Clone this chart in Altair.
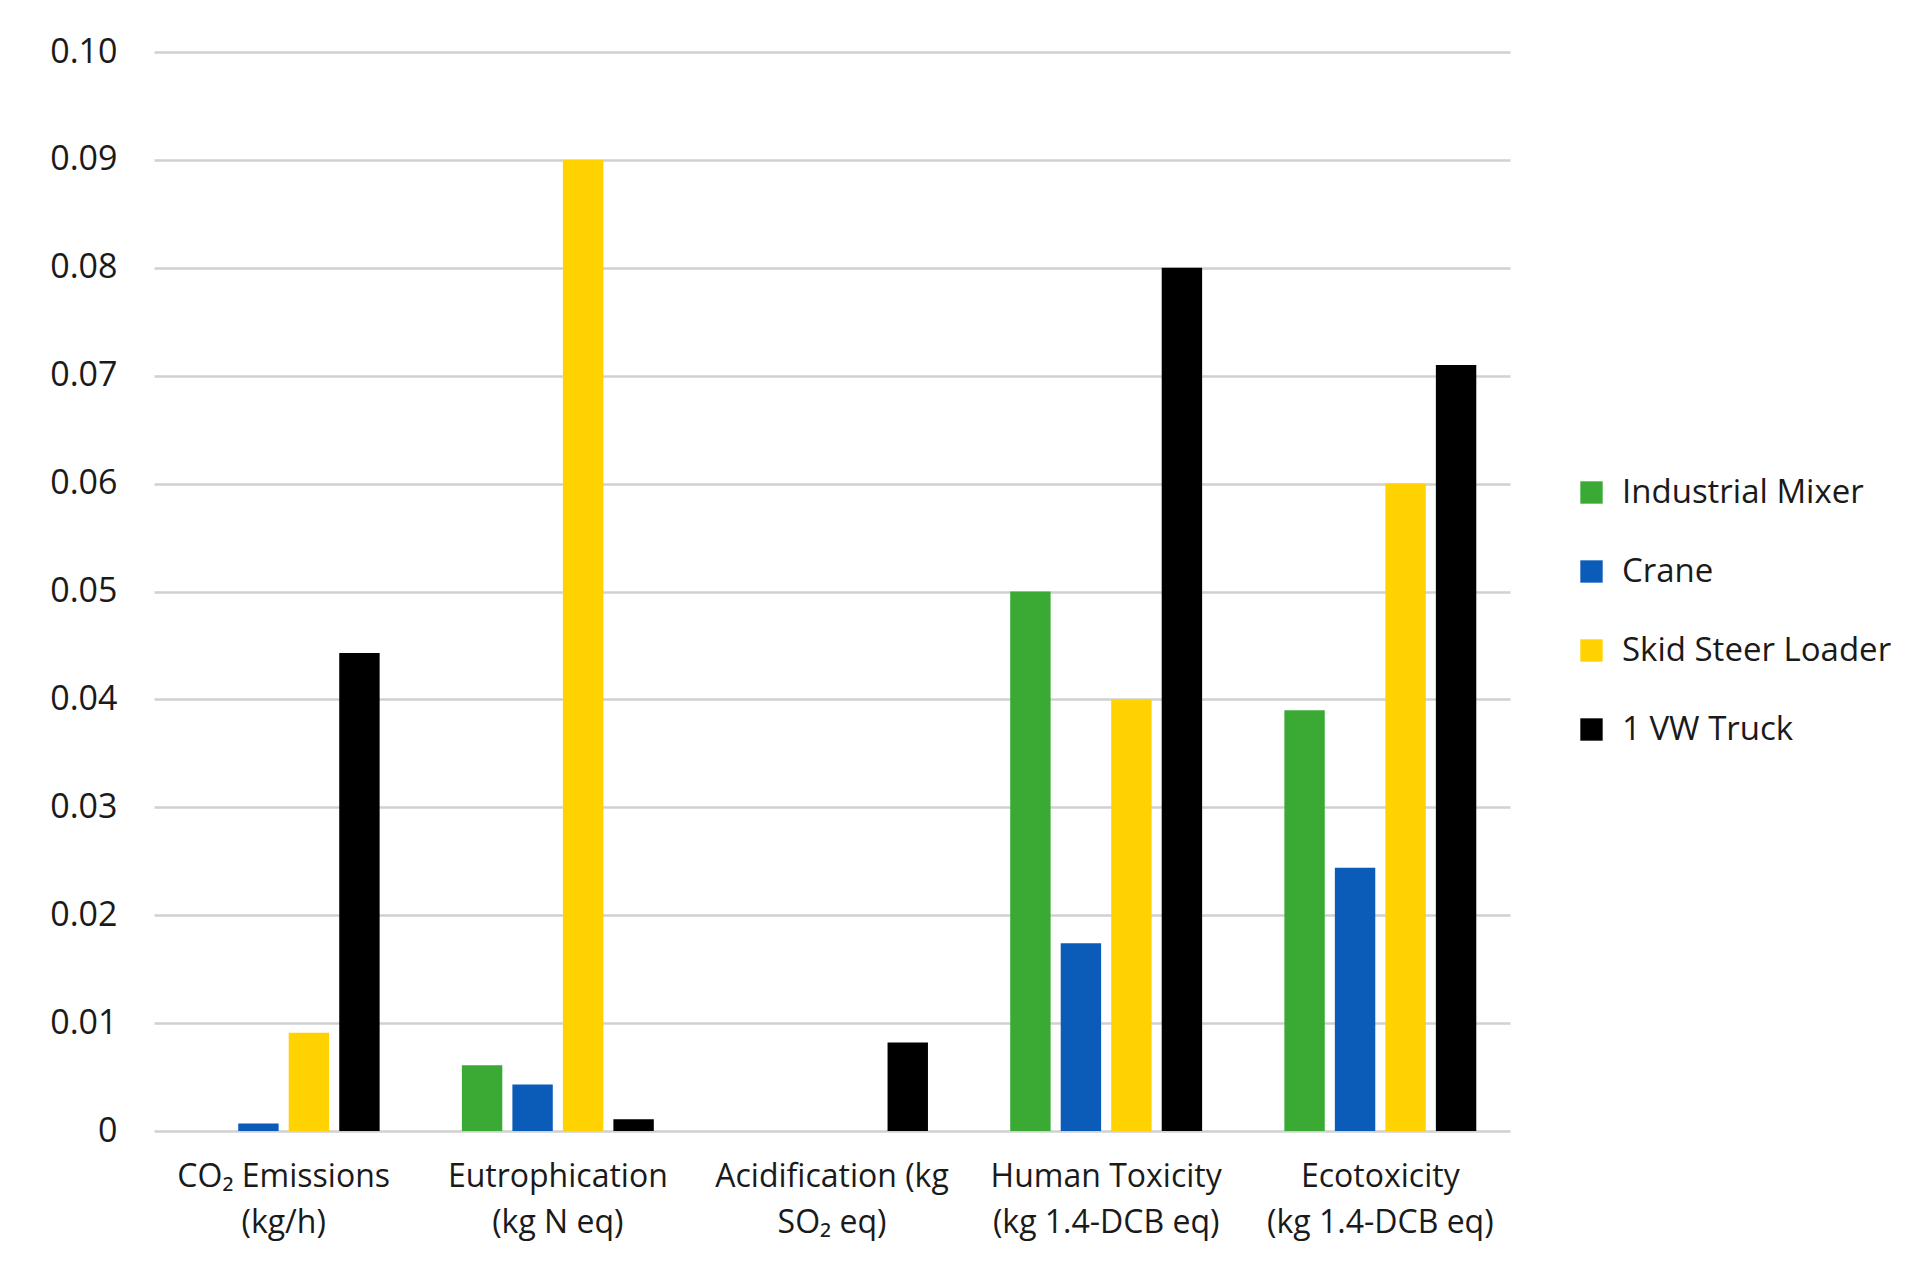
import pandas as pd
import altair as alt

# --- data ---
categories = [
    "CO₂ Emissions|(kg/h)",
    "Eutrophication|(kg N eq)",
    "Acidification (kg|SO₂ eq)",
    "Human Toxicity|(kg 1.4-DCB eq)",
    "Ecotoxicity|(kg 1.4-DCB eq)",
]
series = ["Industrial Mixer", "Crane", "Skid Steer Loader", "1 VW Truck"]
colors = ["#3aaa35", "#0b5cb8", "#ffd200", "#000000"]

industrial_mixer = [0.0, 0.0061, 0.0, 0.050, 0.039]
crane = [0.0007, 0.0043, 0.0, 0.0174, 0.0244]
skid_steer_loader = [0.0091, 0.090, 0.0, 0.040, 0.060]
vw_truck = [0.0443, 0.0011, 0.0082, 0.080, 0.071]

y_ticks = [0.0, 0.01, 0.02, 0.03, 0.04, 0.05, 0.06, 0.07, 0.08, 0.09, 0.10]

rows = []
for name, vals in zip(series, [industrial_mixer, crane, skid_steer_loader, vw_truck]):
    for cat, v in zip(categories, vals):
        rows.append({"Category": cat, "Machine": name, "Value": v})
df = pd.DataFrame(rows)

FONT = "Open Sans"

chart = alt.Chart(df).mark_bar().encode(
    x=alt.X(
        "Category:N",
        sort=categories,
        title=None,
        scale=alt.Scale(paddingInner=0.30, paddingOuter=0.123),
        axis=alt.Axis(
            labelExpr="split(datum.label, '|')",
            labelAngle=0,
            labelFontSize=32,
            labelLineHeight=46,
            labelPadding=30,
            labelLimit=0,
            labelColor="#1a1a1a",
            labelFont=FONT,
            domain=False,
            ticks=False,
            grid=False,
        ),
    ),
    xOffset=alt.XOffset("Machine:N", sort=series, scale=alt.Scale(paddingInner=0.2)),
    y=alt.Y(
        "Value:Q",
        title=None,
        scale=alt.Scale(domain=[0, 0.1], nice=False),
        axis=alt.Axis(
            values=y_ticks,
            labelExpr="datum.value == 0 ? '0' : format(datum.value, '.2f')",
            labelFontSize=34,
            labelPadding=37,
            labelColor="#1a1a1a",
            labelFont=FONT,
            domain=False,
            ticks=False,
            grid=True,
            gridColor="#d0d0d0",
            gridWidth=2.5,
        ),
    ),
    color=alt.Color(
        "Machine:N",
        sort=series,
        scale=alt.Scale(domain=series, range=colors),
        legend=alt.Legend(
            title=None,
            orient="none",
            legendX=1421,
            legendY=424,
            symbolType="square",
            symbolSize=500,
            symbolStrokeWidth=0,
            symbolOpacity=1,
            labelFontSize=33,
            labelFont=FONT,
            labelColor="#1a1a1a",
            labelOffset=14,
            rowPadding=45,
            labelLimit=0,
        ),
    ),
).properties(
    width=1356,
    height=1079,
    autosize=alt.AutoSizeParams(type="none"),
    padding={"left": 146, "top": 44, "right": 404, "bottom": 146},
).configure(
    background="#ffffff"
).configure_view(
    strokeWidth=0
)

chart.save("out.html", embed_options={"renderer": "svg", "actions": False})
